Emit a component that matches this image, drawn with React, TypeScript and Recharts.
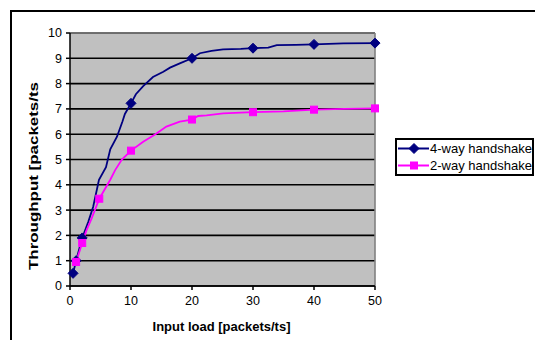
import React from 'react'
import { LineChart, Line, XAxis, YAxis, CartesianGrid, ReferenceLine, Legend } from 'recharts'

// 4-way handshake
const fourWayX = [0.5, 1, 2, 3, 3.8, 4.75, 5.9, 6.6, 7.7, 8.6, 9, 10, 10.8, 12, 13.6, 15.3, 16.4, 18, 20, 21.3, 23.2, 25.1, 28, 30, 32.5, 33.9, 37, 40, 44.8, 50]
const fourWayY = [0.5, 1.0, 1.9, 2.54, 3.13, 4.2, 4.7, 5.4, 5.9, 6.5, 6.8, 7.22, 7.58, 7.9, 8.26, 8.47, 8.63, 8.8, 9.0, 9.2, 9.29, 9.35, 9.37, 9.4, 9.42, 9.52, 9.53, 9.55, 9.59, 9.6]
const fourWayMarks = [0.5, 1, 2, 10, 20, 30, 40, 50]

// 2-way handshake
const twoWayX = [1, 2, 2.7, 3.55, 4.8, 6.6, 7.4, 8.5, 10, 12, 14, 15.8, 18, 20, 21, 22.4, 25.1, 30, 35, 40, 45, 50]
const twoWayY = [0.95, 1.7, 2.2, 2.67, 3.45, 4.2, 4.58, 5.0, 5.35, 5.7, 6.0, 6.3, 6.5, 6.58, 6.72, 6.74, 6.82, 6.87, 6.9, 6.97, 7.0, 7.02]
const twoWayMarks = [1, 2, 4.8, 10, 20, 30, 40, 50]

const xTicks = [0, 10, 20, 30, 40, 50]
const yTicks = [0, 1, 2, 3, 4, 5, 6, 7, 8, 9, 10]

const BLUE = '#000080'
const PINK = '#ff00ff'
const FONT = '"Liberation Sans", Arial, sans-serif'

const fourWay = fourWayX.map((x, i) => ({ x, y: fourWayY[i] }))
const twoWay = twoWayX.map((x, i) => ({ x, y: twoWayY[i] }))

const Diamond = ({ cx, cy, color }: { cx: number; cy: number; color: string }) => (
  <polygon points={`${cx},${cy - 5} ${cx + 5},${cy} ${cx},${cy + 5} ${cx - 5},${cy}`} fill={color} stroke={color} />
)

const Square = ({ cx, cy, color }: { cx: number; cy: number; color: string }) => (
  <rect x={cx - 3.5} y={cy - 3.5} width={7} height={7} fill={color} stroke={color} />
)

const markerDot = (marks: number[], kind: 'diamond' | 'square', color: string) => (props: any) => {
  const { cx, cy, payload, index } = props
  if (!marks.includes(payload.x)) return <g key={`n-${index}`} />
  return kind === 'diamond'
    ? <Diamond key={`m-${index}`} cx={cx} cy={cy} color={color} />
    : <Square key={`m-${index}`} cx={cx} cy={cy} color={color} />
}

const LegendBox = () => (
  <div style={{ border: '2px solid #000', background: '#fff', width: 135, height: 34, fontFamily: FONT, fontSize: 13, color: '#000', boxSizing: 'content-box' }}>
    {[
      { label: '4-way handshake', color: BLUE, kind: 'diamond' as const },
      { label: '2-way handshake', color: PINK, kind: 'square' as const },
    ].map((it) => (
      <div key={it.label} style={{ display: 'flex', alignItems: 'center', height: 17 }}>
        <svg width={33} height={17} style={{ display: 'block', flexShrink: 0 }}>
          <line x1={1} y1={8.5} x2={32} y2={8.5} stroke={it.color} strokeWidth={2} />
          {it.kind === 'diamond' ? <Diamond cx={17} cy={8.5} color={it.color} /> : <Square cx={17} cy={8.5} color={it.color} />}
        </svg>
        <span style={{ whiteSpace: 'nowrap' }}>{it.label}</span>
      </div>
    ))}
  </div>
)

export default function App() {
  return (
    <div style={{ position: 'fixed', left: 0, top: 0, width: 535, height: 340, overflow: 'hidden', background: '#fff' }}>
      <div style={{ position: 'absolute', left: 10, top: 10, width: 600, height: 400, borderTop: '2px solid #000', borderLeft: '2px solid #000' }} />
      <LineChart width={535} height={340} margin={{ top: 33, right: 160, bottom: 0, left: 0 }}>
        <CartesianGrid vertical={false} stroke="#000" strokeWidth={1.6} strokeOpacity={1} fill="#c0c0c0" fillOpacity={1} />
        <XAxis
          dataKey="x"
          type="number"
          domain={[0, 50]}
          ticks={xTicks}
          height={54}
          tickSize={4}
          tickMargin={6}
          stroke="#000"
          strokeWidth={1.5}
          tick={{ fill: '#000', fontSize: 12.5, fontFamily: FONT }}
        />
        <YAxis
          type="number"
          domain={[0, 10]}
          ticks={yTicks}
          width={70}
          tickSize={4}
          tickMargin={4}
          stroke="#000"
          strokeWidth={1.5}
          interval={0}
          tick={{ fill: '#000', fontSize: 12.5, fontFamily: FONT }}
        />
        <ReferenceLine y={10} stroke="#808080" strokeWidth={1.6} />
        <ReferenceLine x={50} stroke="#808080" strokeWidth={1.6} />
        <Line
          data={fourWay}
          dataKey="y"
          name="4-way handshake"
          type="linear"
          stroke={BLUE}
          strokeWidth={1.8}
          dot={markerDot(fourWayMarks, 'diamond', BLUE)}
          activeDot={false}
          isAnimationActive={false}
        />
        <Line
          data={twoWay}
          dataKey="y"
          name="2-way handshake"
          type="linear"
          stroke={PINK}
          strokeWidth={1.8}
          dot={markerDot(twoWayMarks, 'square', PINK)}
          activeDot={false}
          isAnimationActive={false}
        />
        <Legend
          align="center"
          verticalAlign="middle"
          content={() => <LegendBox />}
          wrapperStyle={{ position: 'absolute', left: 395, top: 138, width: 'auto' }}
        />
      </LineChart>
      <svg width={535} height={340} style={{ position: 'absolute', left: 0, top: 0, pointerEvents: 'none' }}>
        <text
          x={221.5}
          y={330.5}
          textAnchor="middle"
          fontFamily={FONT}
          fontWeight="bold"
          fontSize={13}
          fill="#000"
        >
          Input load [packets/ts]
        </text>
        <text
          transform="translate(37.5,176) rotate(-90)"
          textAnchor="middle"
          fontFamily={FONT}
          fontWeight="bold"
          fontSize={13}
          fill="#000"
          textLength={188}
          lengthAdjust="spacingAndGlyphs"
        >
          Throughput [packets/ts
        </text>
      </svg>
    </div>
  )
}
